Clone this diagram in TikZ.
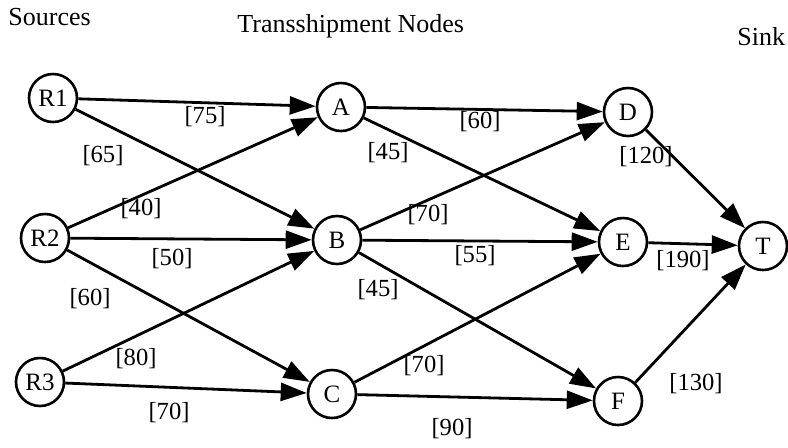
\documentclass[tikz,border=0pt]{standalone}
\usepackage{fontspec}
\setmainfont{Liberation Serif}
\usepackage{tikz}
\usetikzlibrary{arrows.meta}
\tikzset{
  netnode/.style={draw,circle,line width=1.3pt,minimum size=24pt,inner sep=0pt,
    font=\fontsize{12.5}{14}\selectfont},
  flowarrow/.style={-{Triangle[length=13pt,width=9pt]},line width=1.4pt},
  flowlabel/.style={inner sep=0pt,font=\fontsize{12.3}{14}\selectfont},
  columnhead/.style={inner sep=0pt,anchor=base west,font=\fontsize{13}{15}\selectfont}
}

\begin{document}
\begin{tikzpicture}[x=0.5pt,y=-0.5pt]
  \useasboundingbox (0,0) rectangle (788,447);
  % column headings
  \node[columnhead] (hsrc) at (8,25) {Sources};
  \node[columnhead] (hmid) at (237,32) {Transshipment Nodes};
  \node[columnhead] (hsink) at (737,45) {Sink};
  % sources
  \node[netnode] (R1) at (53,98) {R1};
  \node[netnode] (R2) at (45,238) {R2};
  \node[netnode] (R3) at (40,382) {R3};
  % transshipment nodes
  \node[netnode] (A) at (341,107) {A};
  \node[netnode] (B) at (337,240) {B};
  \node[netnode] (C) at (332,394) {C};
  \node[netnode] (D) at (628,112) {D};
  \node[netnode] (E) at (623,242) {E};
  \node[netnode] (F) at (618,401) {F};
  % sink
  \node[netnode] (T) at (763,246) {T};
  % arcs
  \draw[flowarrow] (R1)--(A);
  \draw[flowarrow] (R1)--(B);
  \draw[flowarrow] (R2)--(A);
  \draw[flowarrow] (R2)--(B);
  \draw[flowarrow] (R2)--(C);
  \draw[flowarrow] (R3)--(B);
  \draw[flowarrow] (R3)--(C);
  \draw[flowarrow] (A)--(D);
  \draw[flowarrow] (A)--(E);
  \draw[flowarrow] (B)--(D);
  \draw[flowarrow] (B)--(E);
  \draw[flowarrow] (B)--(F);
  \draw[flowarrow] (C)--(E);
  \draw[flowarrow] (C)--(F);
  \draw[flowarrow] (D)--(T);
  \draw[flowarrow] (E)--(T);
  \draw[flowarrow] (F)--(T);
  % capacities
  \node[flowlabel] (kR1A) at (205,117) {[75]};
  \node[flowlabel] (kR1B) at (103,156) {[65]};
  \node[flowlabel] (kR2A) at (141,209) {[40]};
  \node[flowlabel] (kR2B) at (172,259) {[50]};
  \node[flowlabel] (kR2C) at (90,299) {[60]};
  \node[flowlabel] (kR3B) at (136,359) {[80]};
  \node[flowlabel] (kR3C) at (169,413) {[70]};
  \node[flowlabel] (kAD) at (480,122) {[60]};
  \node[flowlabel] (kAE) at (388,153) {[45]};
  \node[flowlabel] (kBD) at (428,215) {[70]};
  \node[flowlabel] (kBE) at (475,256) {[55]};
  \node[flowlabel] (kBF) at (378,290) {[45]};
  \node[flowlabel] (kCE) at (424,366) {[70]};
  \node[flowlabel] (kCF) at (452,429) {[90]};
  \node[flowlabel] (kDT) at (646,157) {[120]};
  \node[flowlabel] (kET) at (683,261) {[190]};
  \node[flowlabel] (kFT) at (696,384) {[130]};
\end{tikzpicture}
\end{document}
